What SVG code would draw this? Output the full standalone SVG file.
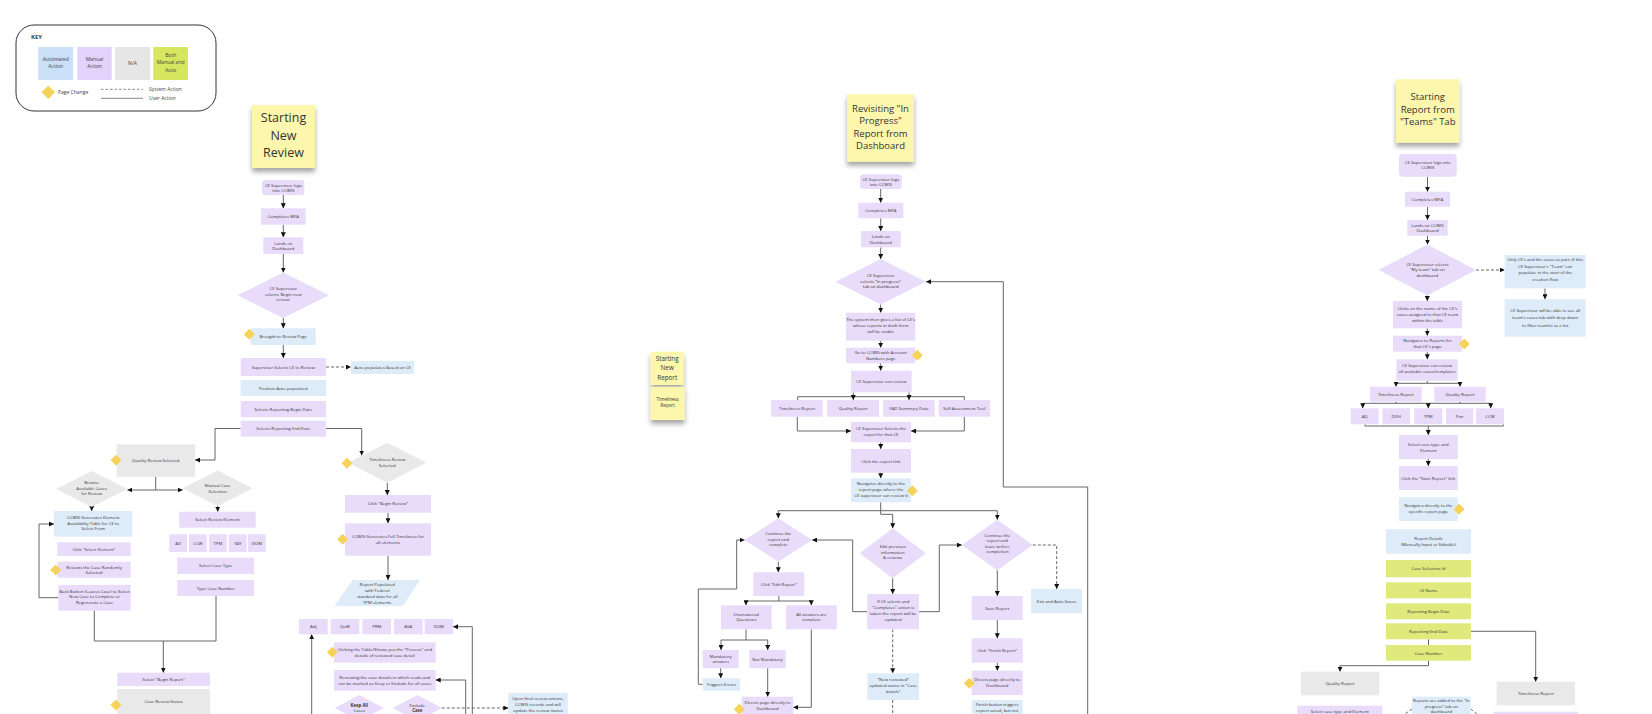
<svg xmlns="http://www.w3.org/2000/svg" xmlns:xlink="http://www.w3.org/1999/xlink" width="1652" height="714" viewBox="0 0 1652 714">
<style>
.p{fill:#e8dcfa}.b{fill:#deebf8}.g{fill:#e9e9e9}.gr{fill:#dfe97c}
.t{font-family:"Open Sans","Liberation Sans",sans-serif;font-size:4.3px;fill:#333;text-anchor:middle}
.k{font-family:"Open Sans","Liberation Sans",sans-serif;font-size:5px;fill:#444}
.s{font-family:"Open Sans","Liberation Sans",sans-serif;fill:#333;text-anchor:middle}
.st{fill:#fdf7ae;filter:url(#sh)}
.c{fill:none;stroke:#666;stroke-width:1;marker-end:url(#ar)}
.n{fill:none;stroke:#666;stroke-width:1}
.d{stroke-dasharray:3 2}
</style>
<defs>
<marker id="ar" viewBox="0 0 6 6" refX="6" refY="3" markerWidth="5" markerHeight="5" markerUnits="userSpaceOnUse" orient="auto"><path d="M0,0L6,3L0,6z" fill="#111"/></marker>
<path id="pc" d="M0,-5.5L5.5,0L0,5.5L-5.5,0Z" fill="#f5d35a"/>
<filter id="sh" x="-20%" y="-20%" width="140%" height="150%"><feDropShadow dx="0" dy="4" stdDeviation="2.5" flood-color="#000" flood-opacity="0.35"/></filter>
</defs>
<rect width="1652" height="714" fill="#fff"/>

<g id="key">
<rect x="16" y="25" width="200" height="86" rx="18" fill="#fff" stroke="#333" stroke-width="1"/>
<text x="31" y="39" class="k" style="font-weight:bold;font-size:6px">KEY</text>
<rect x="38.3" y="47" width="34.7" height="33" fill="#c9e0f6"/>
<text class="k" text-anchor="middle" x="55.7" y="60.8">Automated</text><text class="k" text-anchor="middle" x="55.7" y="68">Action</text>
<rect x="77.3" y="47" width="34.4" height="33" fill="#e3d2f9"/>
<text class="k" text-anchor="middle" x="94.5" y="60.8">Manual</text><text class="k" text-anchor="middle" x="94.5" y="68">Action</text>
<rect x="115" y="47" width="35" height="33" fill="#e6e6e6"/>
<text class="k" text-anchor="middle" x="132.5" y="65">N/A</text>
<rect x="153.3" y="47" width="34.7" height="33" fill="#d6e65e"/>
<text class="k" text-anchor="middle" x="170.7" y="56.5">Both</text><text class="k" text-anchor="middle" x="170.7" y="64">Manual and</text><text class="k" text-anchor="middle" x="170.7" y="71.5">Auto</text>
<path d="M48.3,85.5L55,92.3L48.3,99L41.6,92.3Z" fill="#f5d35a"/>
<text class="k" x="58" y="94">Page Change</text>
<path d="M101,89.3H143" stroke="#888" stroke-width="1" stroke-dasharray="2.5 2"/>
<text class="k" x="149" y="91">System Action</text>
<path d="M101,98.3H143" stroke="#888" stroke-width="1"/>
<text class="k" x="149" y="100">User Action</text>
</g>

<g id="connectors">
<!-- left column -->
<path class="c" d="M283.3,195V208.3"/>
<path class="c" d="M283.3,224.7V237.3"/>
<path class="c" d="M283.3,254V272.6"/>
<path class="c" d="M283.3,318V328.3"/>
<path class="c" d="M283.3,345V358"/>
<path class="c d" d="M326,367H351"/>
<path class="c" d="M240.7,428.5H215V460H195"/>
<path class="c" d="M326,428.5H361.7V455.5"/>
<path class="c" d="M155.7,476.7V490H127.4"/>
<path class="c" d="M155.7,490H182.7"/>
<path class="c" d="M91.7,507V511"/>
<path class="c" d="M58.3,597.7H39V524H54"/>
<path class="c" d="M217.7,506V511.7"/>
<path class="n" d="M94.3,610.7V641H216V596"/>
<path class="c" d="M163.3,641V672.7"/>
<path class="c" d="M387.3,482.7V495"/>
<path class="c" d="M388,512.7V523.3"/>
<path class="c" d="M388,555.7V580"/>
<path class="c" d="M472.3,714V626.7H453"/>
<path class="c" d="M311.7,714V634.3"/>
<path class="c" d="M465.7,714V680H435.7"/>
<path class="c d" d="M441.8,708H508.3"/>
<!-- middle column -->
<path class="c" d="M880.7,189V202.7"/>
<path class="c" d="M880.7,218.3V231"/>
<path class="c" d="M880.7,247.3V259"/>
<path class="c" d="M880.7,304.3V312.7"/>
<path class="c" d="M880.7,340.7V347.7"/>
<path class="c" d="M880.7,363.3V370.7"/>
<path class="n" d="M797.7,400V396.7H964.3V400"/>
<path class="c" d="M853.3,392.3V400"/>
<path class="c" d="M909,392.3V400"/>
<path class="c" d="M797.3,416.7V431H851"/>
<path class="c" d="M964.3,416.7V431H911"/>
<path class="c" d="M880.7,442.3V449"/>
<path class="c" d="M880.7,472.7V478.3"/>
<path class="n" d="M880.7,502.3V510.7"/>
<path class="c" d="M880.7,510.7H778.3V518.3"/>
<path class="c" d="M880.7,510.7H997.3V519.7"/>
<path class="c" d="M880.7,510.7V514.3H892.7V528.3"/>
<path class="c d" d="M1032.8,545H1056.7V589"/>
<path class="c" d="M778.3,561.7V572.3"/>
<path class="n" d="M778.8,596V601H811.3"/>
<path class="c" d="M778.8,601H746V605.3"/>
<path class="c" d="M811.3,601V605.3"/>
<path class="n" d="M746,629.3V640H767.7"/>
<path class="c" d="M746,640H721V650"/>
<path class="c" d="M767.7,640V650"/>
<path class="c" d="M720.7,668.3V678.3"/>
<path class="c" d="M702.7,684.3H698.3V589H736.7V540H744.5"/>
<path class="c" d="M767.7,668.3V696.7"/>
<path class="c" d="M811.3,629.3V707.3H793.3"/>
<path class="c" d="M892.7,578.3V594"/>
<path class="c" d="M867.3,611.7H852.7V540H812.1"/>
<path class="c" d="M919,611.7H939.3V545H961.8"/>
<path class="c d" d="M892.7,629.3V673.3"/>
<path class="n d" d="M892.7,700V714"/>
<path class="c" d="M997.3,570.3V596"/>
<path class="c" d="M997.3,620V638.3"/>
<path class="c" d="M997.3,662.7V670.7"/>
<path class="c" d="M1087.7,714V487H1003.3V281.7H926"/>
<!-- right column -->
<path class="c" d="M1427.5,176.7V191.7"/>
<path class="c" d="M1427.5,206.7V220"/>
<path class="c" d="M1427.5,235.7V244.5"/>
<path class="c d" d="M1476,270H1504.7"/>
<path class="c" d="M1545,288.3V299.3"/>
<path class="c" d="M1427.3,295.5V301"/>
<path class="c" d="M1427.3,328.3V335.7"/>
<path class="c" d="M1427.3,351.7V359.3"/>
<path class="n" d="M1427.3,380.7V383.3"/>
<path class="c" d="M1427.3,383.3H1396V386.7"/>
<path class="c" d="M1427.3,383.3H1460V386.7"/>
<path class="n" d="M1395.8,401.7V403.3M1460,401.7V403.3M1362.7,403.3H1490.7"/>
<path class="c" d="M1362.7,403.3V408.3"/>
<path class="c" d="M1428.3,403.3V408.3"/>
<path class="c" d="M1490.7,403.3V408.3"/>
<path class="n" d="M1365,424.3V426H1503.3V424.3"/>
<path class="c" d="M1428.3,426V435"/>
<path class="c" d="M1428.3,459V466"/>
<path class="n" d="M1428.5,639.3V645"/>
<path class="c" d="M1471,631.3H1535.7V681.7"/>
<path class="c" d="M1428.5,660.7V665.7H1340V671.7"/>
<path class="n d" d="M1412,709L1405,714M1470.7,709L1477,714"/>
</g>

<!-- LEFT: Starting New Review -->
<g id="sticky-new-review">
<rect class="st" x="252" y="105" width="63" height="63"/>
<text class="s" x="283.5" y="122" font-size="12.5">Starting</text>
<text class="s" x="283.5" y="139.5" font-size="12.5">New</text>
<text class="s" x="283.5" y="156.5" font-size="12.5">Review</text>
</g>
<g id="l-login"><rect class="p" x="262" y="180" width="42.3" height="15" rx="3"/><text class="t" x="283.3" y="186.5">CE Supervisor logs</text><text class="t" x="283.3" y="192">into CCWIS</text></g>
<g id="l-mfa"><rect class="p" x="261" y="208.3" width="44.7" height="16.4"/><text class="t" x="283.3" y="218">Completes MFA</text></g>
<g id="l-dash"><rect class="p" x="263.3" y="237.3" width="40" height="16.7"/><text class="t" x="283.3" y="244.5">Lands on</text><text class="t" x="283.3" y="250">Dashboard</text></g>
<g id="l-select"><polygon class="p" points="283.3,272.6 329,295.3 283.3,318 237.6,295.3"/><text class="t" x="283.3" y="290">CE Supervisor</text><text class="t" x="283.3" y="295.5">selects 'Begin new</text><text class="t" x="283.3" y="301">review'</text></g>
<g id="l-brought"><rect class="b" x="250.7" y="328.3" width="65" height="16.7"/><text class="t" x="283.3" y="338">Brought to Review Page</text><use href="#pc" x="249.3" y="334.3"/></g>
<g id="l-selectce"><rect class="p" x="240.7" y="358" width="85.3" height="18"/><text class="t" x="283.3" y="368.5">Supervisor Selects CE to Review</text></g>
<g id="l-auto"><rect class="b" x="351" y="361" width="63" height="13"/><text class="t" x="382.5" y="369">Auto-populates Based on CE</text></g>
<g id="l-position"><rect class="b" x="240.7" y="380" width="85.3" height="16"/><text class="t" x="283.3" y="389.5">Position Auto-populated</text></g>
<g id="l-begin"><rect class="p" x="240.7" y="401" width="85.3" height="16.3"/><text class="t" x="283.3" y="410.7">Selects Reporting Begin Date</text></g>
<g id="l-end"><rect class="p" x="240.7" y="420.7" width="85.3" height="16"/><text class="t" x="283.3" y="430.2">Selects Reporting End Date</text></g>
<g id="l-quality"><rect class="g" x="116.7" y="444.3" width="78.3" height="32.4"/><text class="t" x="155.8" y="462">Quality Review Selected</text><use href="#pc" x="116" y="460.3"/></g>
<g id="l-timeliness"><polygon class="g" points="387.3,442.7 426.3,462.7 387.3,482.7 348.3,462.7"/><text class="t" x="387.3" y="461">Timeliness Review</text><text class="t" x="387.3" y="466.5">Selected</text><use href="#pc" x="347" y="463.3"/></g>
<g id="l-browse"><polygon class="g" points="91.7,471 127.4,489 91.7,507 56,489"/><text class="t" x="91.7" y="484">Browse</text><text class="t" x="91.7" y="489.5">Available Cases</text><text class="t" x="91.7" y="495">for Review</text></g>
<g id="l-manual"><polygon class="g" points="217.7,470.6 252.7,488.3 217.7,506 182.7,488.3"/><text class="t" x="217.7" y="487">Manual Case</text><text class="t" x="217.7" y="492.5">Selection</text></g>
<g id="l-table"><rect class="b" x="54" y="511" width="78.3" height="25.7"/><text class="t" x="93.2" y="519">CCWIS Generates Element</text><text class="t" x="93.2" y="524.5">Availability Table for CE to</text><text class="t" x="93.2" y="530">Select From</text></g>
<g id="l-clickel"><rect class="p" x="57.3" y="542.3" width="73.4" height="13.7"/><text class="t" x="94" y="550.7">Click "Select Element"</text></g>
<g id="l-reviews"><rect class="p" x="57.3" y="561.7" width="73.4" height="16"/><text class="t" x="94" y="568.5">Reviews the Case Randomly</text><text class="t" x="94" y="574">Selected</text><use href="#pc" x="55.7" y="570"/></g>
<g id="l-back"><rect class="p" x="58.3" y="585" width="72.4" height="25.7"/><text class="t" x="94.5" y="592.5">Back Button (Leaves Case) to Select</text><text class="t" x="94.5" y="598">New Case to Complete or</text><text class="t" x="94.5" y="603.5">Regenerate a Case</text></g>
<g id="l-element"><rect class="p" x="179.3" y="511.7" width="76.4" height="16"/><text class="t" x="217.5" y="521.2">Select Review Element</text></g>
<g id="l-types">
<rect class="p" x="169.3" y="534.3" width="17.7" height="17.7"/><text class="t" x="178.2" y="544.7">AD</text>
<rect class="p" x="189" y="534.3" width="17.7" height="17.7"/><text class="t" x="197.9" y="544.7">CCW</text>
<rect class="p" x="209" y="534.3" width="17.7" height="17.7"/><text class="t" x="217.9" y="544.7">TPM</text>
<rect class="p" x="228.7" y="534.3" width="18" height="17.7"/><text class="t" x="237.7" y="544.7">TAY</text>
<rect class="p" x="248" y="534.3" width="17.7" height="17.7"/><text class="t" x="256.9" y="544.7">DOM</text>
</g>
<g id="l-casetype"><rect class="p" x="177.3" y="557.7" width="76.7" height="16.3"/><text class="t" x="215.7" y="567.4">Select Case Type</text></g>
<g id="l-casenum"><rect class="p" x="177.3" y="580" width="76.7" height="16"/><text class="t" x="215.7" y="589.5">Type Case Number</text></g>
<g id="l-beginreport"><rect class="p" x="117.3" y="672.7" width="92.7" height="13.3"/><text class="t" x="163.7" y="680.9">Select "Begin Report"</text></g>
<g id="l-status"><rect class="g" x="117.3" y="689" width="92.7" height="25"/><text class="t" x="163.7" y="703">Case Review Status</text><use href="#pc" x="116" y="705"/></g>
<g id="l-clickbegin"><rect class="p" x="345" y="495" width="86" height="17.7"/><text class="t" x="388" y="505.4">Click "Begin Review"</text></g>
<g id="l-full"><rect class="p" x="345" y="523.3" width="86" height="32.4"/><text class="t" x="388" y="538">CCWIS Generates Full Timeliness for</text><text class="t" x="388" y="543.5">all elements</text><use href="#pc" x="342.7" y="539.3"/></g>
<g id="l-populated"><polygon class="b" points="352.7,580 420,580 402.7,606 334.3,606"/><text class="t" x="377.2" y="585.5">Report Populated</text><text class="t" x="377.2" y="591.7">with Federal</text><text class="t" x="377.2" y="597.9">standard data for all</text><text class="t" x="377.2" y="604.1">TPM elements</text></g>
<g id="l-row">
<rect class="p" x="299" y="619" width="28.7" height="15.3"/><text class="t" x="313.3" y="628">Adj</text>
<rect class="p" x="330.7" y="619" width="28.6" height="15.3"/><text class="t" x="345" y="628">QoW</text>
<rect class="p" x="362.3" y="619" width="28.7" height="15.3"/><text class="t" x="376.7" y="628">PRM</text>
<rect class="p" x="394" y="619" width="28.7" height="15.3"/><text class="t" x="408.3" y="628">AVA</text>
<rect class="p" x="424.7" y="619" width="28.3" height="15.3"/><text class="t" x="438.8" y="628">DOM</text>
</g>
<g id="l-clicktable"><rect class="p" x="334" y="642.3" width="101.7" height="20.4"/><text class="t" x="384.8" y="650.8">Clicking the Table/Shows you the "Process" and</text><text class="t" x="384.8" y="656.8">details of reviewed case detail</text><use href="#pc" x="332.3" y="652.3"/></g>
<g id="l-reviewing"><rect class="p" x="334" y="670" width="101.7" height="20.7"/><text class="t" x="384.8" y="678.6">Reviewing the case details in which reads and</text><text class="t" x="384.8" y="684.6">can be marked as Keep or Exclude for all cases</text></g>
<g id="l-keep"><polygon class="p" points="359.3,695 383.8,708 359.3,721 334.8,708"/><text class="t" x="359.3" y="706.5" style="font-weight:bold">Keep All</text><text class="t" x="359.3" y="712">Cases</text></g>
<g id="l-exclude"><polygon class="p" points="417.3,695 441.8,708 417.3,721 392.8,708"/><text class="t" x="417.3" y="706.5">Exclude</text><text class="t" x="417.3" y="712" style="font-weight:bold">Case</text></g>
<g id="l-final"><rect class="b" x="508.3" y="692.7" width="59.4" height="30"/><text class="t" x="538" y="700">Upon final review actions,</text><text class="t" x="538" y="706">CCWIS records and will</text><text class="t" x="538" y="712">update the review status</text></g>

<!-- MIDDLE: Revisiting -->
<g id="sticky-revisiting">
<rect class="st" x="847" y="94.3" width="67" height="67.4"/>
<text class="s" x="880.5" y="112" font-size="9.5">Revisiting "In</text>
<text class="s" x="880.5" y="124" font-size="9.5">Progress"</text>
<text class="s" x="880.5" y="136.5" font-size="9.5">Report from</text>
<text class="s" x="880.5" y="148.5" font-size="9.5">Dashboard</text>
</g>
<g id="sticky-starting-new-report"><rect class="st" x="650.7" y="351.7" width="33" height="33.3"/><text class="s" x="667.2" y="360.5" font-size="6.3">Starting</text><text class="s" x="667.2" y="370" font-size="6.3">New</text><text class="s" x="667.2" y="379.5" font-size="6.3">Report</text></g>
<g id="sticky-timeliness-report"><rect class="st" x="650.7" y="386.7" width="34" height="33.3"/><text class="s" x="667.7" y="400.5" font-size="4.5" fill="#666">Timeliness</text><text class="s" x="667.7" y="406.5" font-size="4.5" fill="#666">Report</text></g>
<g id="m-login"><rect class="p" x="860" y="174.3" width="41.7" height="14.7" rx="3"/><text class="t" x="880.8" y="180.5">CE Supervisor logs</text><text class="t" x="880.8" y="186">into CCWIS</text></g>
<g id="m-mfa"><rect class="p" x="858.3" y="202.7" width="45" height="15.6"/><text class="t" x="880.8" y="212">Completes MFA</text></g>
<g id="m-dash"><rect class="p" x="861" y="231" width="39.7" height="16.3"/><text class="t" x="880.8" y="238">Lands on</text><text class="t" x="880.8" y="243.5">Dashboard</text></g>
<g id="m-select"><polygon class="p" points="880.7,259 926,281.7 880.7,304.4 835.4,281.7"/><text class="t" x="880.7" y="277">CE Supervisor</text><text class="t" x="880.7" y="282.5">selects "In progress"</text><text class="t" x="880.7" y="288">tab on dashboard</text></g>
<g id="m-list"><rect class="p" x="846" y="312.7" width="69.3" height="28"/><text class="t" x="880.7" y="320.5">The system then gives a list of CE's</text><text class="t" x="880.7" y="326.5">whose reports in draft form</text><text class="t" x="880.7" y="332.5">will be visible</text></g>
<g id="m-goto"><rect class="p" x="846" y="347.7" width="69.3" height="15.6"/><text class="t" x="880.7" y="354">Go to CCWIS with Account</text><text class="t" x="880.7" y="359.5">Numbers page</text><use href="#pc" x="917.3" y="355.3"/></g>
<g id="m-canreview"><rect class="p" x="851" y="370.7" width="60.7" height="21.6"/><text class="t" x="881.3" y="383">CE Supervisor can review</text></g>
<g id="m-row">
<rect class="p" x="771.3" y="400" width="51.4" height="16.7"/><text class="t" x="797" y="409.9">Timeliness Report</text>
<rect class="p" x="827.3" y="400" width="51.7" height="16.7"/><text class="t" x="853.2" y="409.9">Quality Report</text>
<rect class="p" x="883.3" y="400" width="51.4" height="16.7"/><text class="t" x="909" y="409.9">FAD Summary Data</text>
<rect class="p" x="938.7" y="400" width="51.3" height="16.7"/><text class="t" x="964.3" y="409.9">Self Assessment Tool</text>
</g>
<g id="m-selreport"><rect class="p" x="851" y="422" width="60" height="20.3"/><text class="t" x="881" y="430">CE Supervisor Selects the</text><text class="t" x="881" y="436">report for that CE</text></g>
<g id="m-clicklink"><rect class="p" x="851" y="449" width="60" height="23.7"/><text class="t" x="881" y="462.5">Click the report link</text></g>
<g id="m-navigates"><rect class="b" x="851" y="478.3" width="60" height="24"/><text class="t" x="881" y="485">Navigates directly to the</text><text class="t" x="881" y="490.8">report page where the</text><text class="t" x="881" y="496.6">CE supervisor can review it</text><use href="#pc" x="912.3" y="490.7"/></g>
<g id="m-continue"><polygon class="p" points="778.3,518.3 812.1,540 778.3,561.7 744.5,540"/><text class="t" x="778.3" y="535">Continue the</text><text class="t" x="778.3" y="540.5">report and</text><text class="t" x="778.3" y="546">complete</text></g>
<g id="m-edit"><polygon class="p" points="892.7,528.3 925.7,553.3 892.7,578.3 859.7,553.3"/><text class="t" x="892.7" y="548">Edit previous</text><text class="t" x="892.7" y="553.5">information</text><text class="t" x="892.7" y="559">&amp; reviews</text></g>
<g id="m-leave"><polygon class="p" points="997.3,519.7 1032.8,545 997.3,570.3 961.8,545"/><text class="t" x="997.3" y="536.5">Continue the</text><text class="t" x="997.3" y="542">report and</text><text class="t" x="997.3" y="547.5">leave before</text><text class="t" x="997.3" y="553">completion</text></g>
<g id="m-autosave"><rect class="b" x="1031" y="589" width="51" height="24.3"/><text class="t" x="1056.5" y="602.7">Exit and Auto-Saves</text></g>
<g id="m-clickedit"><rect class="p" x="753.3" y="572.3" width="51" height="23.7"/><text class="t" x="778.8" y="585.7">Click "Edit Report"</text></g>
<g id="m-unanswered"><rect class="p" x="721" y="605.3" width="50.7" height="24"/><text class="t" x="746.3" y="615.5">Unanswered</text><text class="t" x="746.3" y="621">Questions</text></g>
<g id="m-allanswers"><rect class="p" x="786" y="605.3" width="50.7" height="24"/><text class="t" x="811.3" y="615.5">All answers are</text><text class="t" x="811.3" y="621">complete</text></g>
<g id="m-mandatory"><rect class="p" x="702.7" y="650" width="36" height="18.3"/><text class="t" x="720.7" y="657.8">Mandatory</text><text class="t" x="720.7" y="663.3">answers</text></g>
<g id="m-notmandatory"><rect class="p" x="749.3" y="650" width="36.4" height="18.3"/><text class="t" x="767.5" y="660.8">Not Mandatory</text></g>
<g id="m-errors"><rect class="b" x="702.7" y="678.3" width="37.3" height="12.4"/><text class="t" x="721.3" y="686">Triggers Errors</text></g>
<g id="m-directs1"><rect class="p" x="741.7" y="696.7" width="51.6" height="22"/><text class="t" x="767.5" y="703.8">Directs page directly to</text><text class="t" x="767.5" y="709.8">Dashboard</text><use href="#pc" x="739.3" y="709.3"/></g>
<g id="m-completes"><rect class="p" x="867.3" y="594" width="51.7" height="35.3"/><text class="t" x="893.2" y="602.5">If CE selects and</text><text class="t" x="893.2" y="608.5">"Completes" action is</text><text class="t" x="893.2" y="614.5">taken the report will be</text><text class="t" x="893.2" y="620.5">updated</text></g>
<g id="m-newreviewed"><rect class="b" x="867.3" y="673.3" width="51.7" height="26.7"/><text class="t" x="893.2" y="681">"New reviewed"</text><text class="t" x="893.2" y="687">updated status in "Case</text><text class="t" x="893.2" y="693">details"</text></g>
<g id="m-save"><rect class="p" x="971.7" y="596" width="51" height="24"/><text class="t" x="997.2" y="609.5">Save Report</text></g>
<g id="m-finish"><rect class="p" x="971.7" y="638.3" width="51" height="24.4"/><text class="t" x="997.2" y="652">Click "Finish Report"</text></g>
<g id="m-directs2"><rect class="p" x="971.7" y="670.7" width="51" height="24.3"/><text class="t" x="997.2" y="681.2">Directs page directly to</text><text class="t" x="997.2" y="687.2">Dashboard</text><use href="#pc" x="969.3" y="683.3"/></g>
<g id="m-triggers"><rect class="b" x="971.7" y="700" width="51" height="20"/><text class="t" x="997.2" y="706.3">Finish button triggers</text><text class="t" x="997.2" y="712.3">report saved, but not</text></g>

<!-- RIGHT: Teams tab -->
<g id="sticky-teams">
<rect class="st" x="1396" y="79.3" width="63.3" height="63.4"/>
<text class="s" x="1427.7" y="100" font-size="9.5">Starting</text>
<text class="s" x="1427.7" y="112.5" font-size="9.5">Report from</text>
<text class="s" x="1427.7" y="125" font-size="9.5">"Teams" Tab</text>
</g>
<g id="r-login"><rect class="p" x="1399" y="154" width="57.7" height="22.7" rx="4"/><text class="t" x="1427.8" y="163.5">CE Supervisor logs into</text><text class="t" x="1427.8" y="169">CCWIS</text></g>
<g id="r-mfa"><rect class="p" x="1405" y="191.7" width="45" height="15"/><text class="t" x="1427.5" y="200.8">Completes MFA</text></g>
<g id="r-dash"><rect class="p" x="1407.3" y="220" width="40.4" height="15.7"/><text class="t" x="1427.5" y="226.5">Lands on CCWIS</text><text class="t" x="1427.5" y="232">Dashboard</text></g>
<g id="r-select"><polygon class="p" points="1427.3,244.5 1476,270 1427.3,295.5 1378.5,270"/><text class="t" x="1427.3" y="265.5">CE Supervisor selects</text><text class="t" x="1427.3" y="271">"My team" tab on</text><text class="t" x="1427.3" y="276.5">dashboard</text></g>
<g id="r-only"><rect class="b" x="1504.7" y="255" width="81" height="33.3"/><text class="t" x="1545.2" y="261">Only CE's and the cases as part of this</text><text class="t" x="1545.2" y="267.6">CE Supervisor's "Team" can</text><text class="t" x="1545.2" y="274.2">populate in the start of the</text><text class="t" x="1545.2" y="280.8">creation flow</text></g>
<g id="r-willsee"><rect class="b" x="1504.7" y="299.3" width="81" height="37.4"/><text class="t" x="1545.2" y="312">CE Supervisor will be able to see all</text><text class="t" x="1545.2" y="319.3">team's cases tab with drop down</text><text class="t" x="1545.2" y="326.5">to filter team(s) as a list</text></g>
<g id="r-clicks"><rect class="p" x="1393" y="301" width="69" height="27.3"/><text class="t" x="1427.5" y="309.8">Clicks on the name of the CE's</text><text class="t" x="1427.5" y="315.8">cases assigned to that CE team</text><text class="t" x="1427.5" y="322">within the table</text></g>
<g id="r-navreports"><rect class="p" x="1393" y="335.7" width="69" height="16"/><text class="t" x="1427.5" y="341.5">Navigates to Reports for</text><text class="t" x="1427.5" y="348">that CE's page</text><use href="#pc" x="1464.3" y="344"/></g>
<g id="r-canreview"><rect class="p" x="1396.3" y="359.3" width="61.4" height="21.4"/><text class="t" x="1427" y="366.5">CE Supervisor can review</text><text class="t" x="1427" y="372.5">all available cases/templates</text></g>
<g id="r-reports">
<rect class="p" x="1370" y="386.7" width="51.7" height="15"/><text class="t" x="1395.8" y="395.8">Timeliness Report</text>
<rect class="p" x="1434.3" y="386.7" width="51.4" height="15"/><text class="t" x="1460" y="395.8">Quality Report</text>
</g>
<g id="r-types">
<rect class="p" x="1350.7" y="408.3" width="28" height="16"/><text class="t" x="1364.7" y="417.8">AQ</text>
<rect class="p" x="1382.3" y="408.3" width="27.7" height="16"/><text class="t" x="1396.2" y="417.8">DOH</text>
<rect class="p" x="1414.3" y="408.3" width="28" height="16"/><text class="t" x="1428.3" y="417.8">TPM</text>
<rect class="p" x="1446" y="408.3" width="27.3" height="16"/><text class="t" x="1459.7" y="417.8">Pwr</text>
<rect class="p" x="1476" y="408.3" width="28" height="16"/><text class="t" x="1490" y="417.8">CCW</text>
</g>
<g id="r-casetype"><rect class="p" x="1399" y="435" width="58.7" height="24"/><text class="t" x="1428.3" y="445.5">Select case type and</text><text class="t" x="1428.3" y="451.5">Element</text></g>
<g id="r-start"><rect class="p" x="1399" y="466" width="58.7" height="24"/><text class="t" x="1428.3" y="479.5">Click the "Start Report" link</text></g>
<g id="r-navspecific"><rect class="b" x="1399" y="497.3" width="58.7" height="23.7"/><text class="t" x="1428.3" y="506.7">Navigates directly to the</text><text class="t" x="1428.3" y="512.7">specific report page</text><use href="#pc" x="1459" y="509.3"/></g>
<g id="r-details"><rect class="b" x="1386" y="529.3" width="85" height="24.4"/><text class="t" x="1428.5" y="539.5">Report Details</text><text class="t" x="1428.5" y="545.5">(Manually Input or Editable)</text></g>
<g id="r-caseselection"><rect class="gr" x="1386" y="560" width="85" height="17.3"/><text class="t" x="1428.5" y="570.2">Case Selection Id</text></g>
<g id="r-cename"><rect class="gr" x="1386" y="582.3" width="85" height="16"/><text class="t" x="1428.5" y="591.8">CE Name</text></g>
<g id="r-begin"><rect class="gr" x="1386" y="603.3" width="85" height="16"/><text class="t" x="1428.5" y="612.8">Reporting Begin Date</text></g>
<g id="r-end"><rect class="gr" x="1386" y="623.3" width="85" height="16"/><text class="t" x="1428.5" y="632.8">Reporting End Date</text></g>
<g id="r-casenumber"><rect class="gr" x="1386" y="645" width="85" height="15.7"/><text class="t" x="1428.5" y="654.5">Case Number</text></g>
<g id="r-quality"><rect class="g" x="1301" y="671.7" width="78.3" height="23.6"/><text class="t" x="1340.2" y="685">Quality Report</text></g>
<g id="r-timeliness"><rect class="g" x="1496.7" y="681.7" width="78.3" height="23.6"/><text class="t" x="1535.8" y="695">Timeliness Report</text></g>
<g id="r-selelement"><rect class="p" x="1297.3" y="705.7" width="85" height="15"/><text class="t" x="1339.8" y="712.5">Select case type and Element</text></g>
<g id="r-added"><rect class="b" x="1412" y="696.7" width="58.7" height="20"/><text class="t" x="1441.3" y="702.3">Reports are added to the "In</text><text class="t" x="1441.3" y="707.8">progress" tab on</text><text class="t" x="1441.3" y="713.3">dashboard</text></g>
<g id="r-tl-next"><rect class="p" x="1493.3" y="711.7" width="85" height="8"/></g>
</svg>
